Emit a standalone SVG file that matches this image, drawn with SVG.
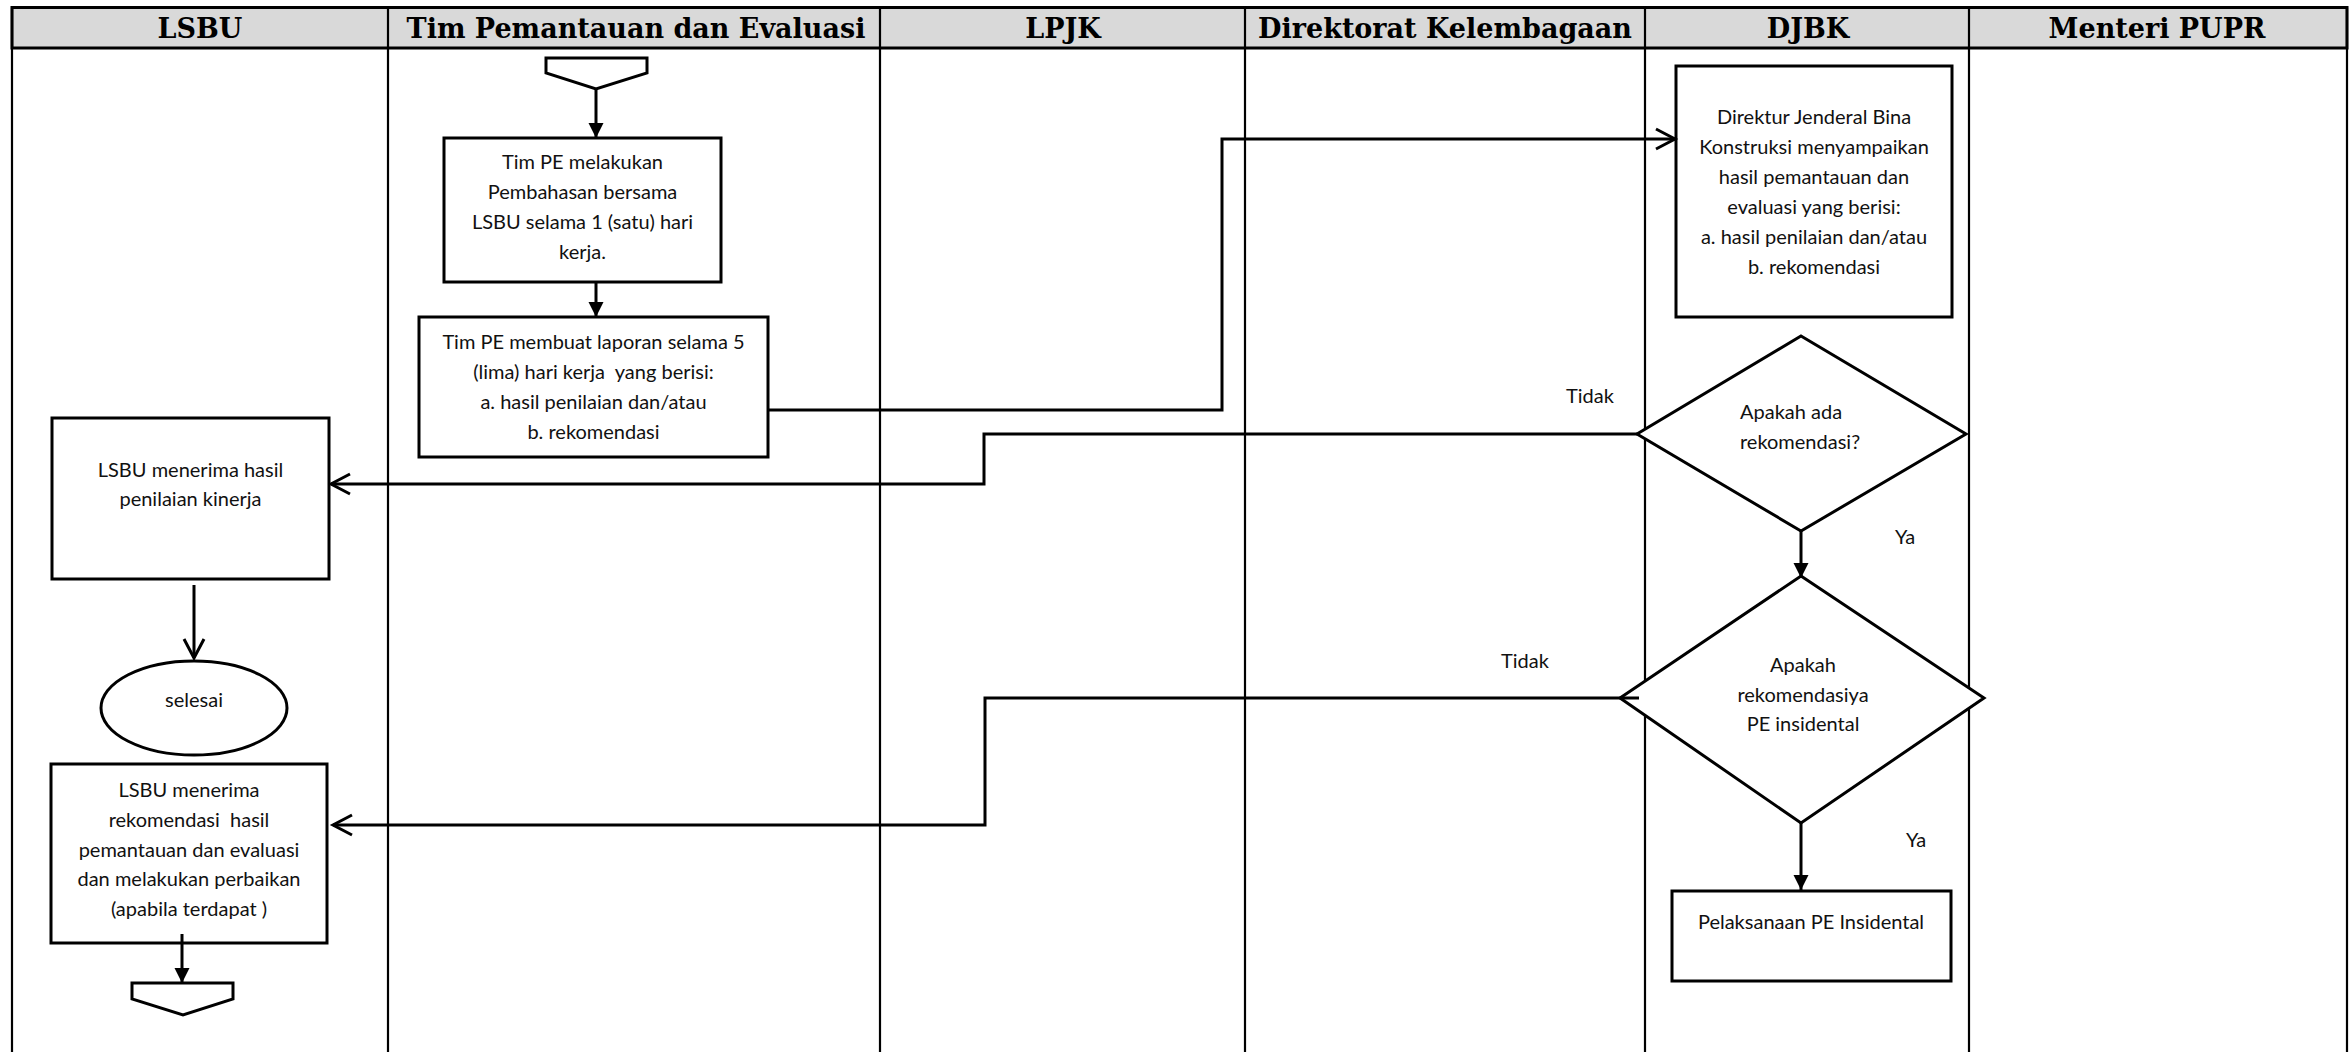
<svg xmlns="http://www.w3.org/2000/svg" width="2352" height="1052" viewBox="0 0 2352 1052">
<style>
  .lane { stroke: #000; stroke-width: 2.2; fill: none; }
  .hdr { fill: #d9d9d9; stroke: #000; stroke-width: 3; }
  .htxt { font-family: "DejaVu Serif", "Liberation Serif", serif; font-weight: bold; font-size: 27px; text-anchor: middle; fill: #000; }
  .box { fill: #fff; stroke: #000; stroke-width: 3; }
  .t { font-family: Lato, "Liberation Sans", sans-serif; font-size: 20px; fill: #111; text-anchor: middle; white-space: pre; }
  .tl { font-family: Lato, "Liberation Sans", sans-serif; font-size: 20px; fill: #111; white-space: pre; }
  .conn { fill: none; stroke: #000; stroke-width: 3; }
</style>
<defs>
  <marker id="fill" markerUnits="userSpaceOnUse" markerWidth="16" markerHeight="16" refX="15" refY="7.5" orient="auto">
    <path d="M0,0 L15,7.5 L0,15 z" fill="#000"/>
  </marker>
  <marker id="open" markerUnits="userSpaceOnUse" markerWidth="26" markerHeight="26" refX="21" refY="12" orient="auto">
    <path d="M2,2 L21,12 L2,22" fill="none" stroke="#000" stroke-width="3"/>
  </marker>
</defs>
<rect width="2352" height="1052" fill="#fff"/>
<g id="lanes">
  <rect class="hdr" x="12" y="7.5" width="2335" height="40.5"/>
  <line class="lane" x1="12" y1="7.5" x2="12" y2="1052"/>
  <line class="lane" x1="388" y1="7.5" x2="388" y2="1052"/>
  <line class="lane" x1="880" y1="7.5" x2="880" y2="1052"/>
  <line class="lane" x1="1245" y1="7.5" x2="1245" y2="1052"/>
  <line class="lane" x1="1645" y1="7.5" x2="1645" y2="1052"/>
  <line class="lane" x1="1969" y1="7.5" x2="1969" y2="1052"/>
  <line class="lane" x1="2347" y1="7.5" x2="2347" y2="1052"/>
  <text class="htxt" x="200" y="38">LSBU</text>
  <text class="htxt" x="636" y="38">Tim Pemantauan dan Evaluasi</text>
  <text class="htxt" x="1063" y="38">LPJK</text>
  <text class="htxt" x="1445" y="38">Direktorat Kelembagaan</text>
  <text class="htxt" x="1808" y="38">DJBK</text>
  <text class="htxt" x="2157" y="38">Menteri PUPR</text>
</g>
<g id="start-offpage">
  <polygon class="box" points="546,58 647,58 647,73 596,89 546,73"/>
</g>
<g id="tim-pe-pembahasan">
  <rect class="box" x="444" y="138" width="277" height="144"/>
  <text class="t" x="582.5" y="169">Tim PE melakukan</text>
  <text class="t" x="582.5" y="199">Pembahasan bersama</text>
  <text class="t" x="582.5" y="229">LSBU selama 1 (satu) hari</text>
  <text class="t" x="582.5" y="259">kerja.</text>
</g>
<g id="tim-pe-laporan">
  <rect class="box" x="419" y="317" width="349" height="140"/>
  <text class="t" x="593.5" y="349">Tim PE membuat laporan selama 5</text>
  <text class="t" x="593.5" y="379">(lima) hari kerja  yang berisi:</text>
  <text class="t" x="593.5" y="409">a. hasil penilaian dan/atau</text>
  <text class="t" x="593.5" y="439">b. rekomendasi</text>
</g>
<g id="djbk-menyampaikan">
  <rect class="box" x="1676" y="66" width="276" height="251"/>
  <text class="t" x="1814" y="124">Direktur Jenderal Bina</text>
  <text class="t" x="1814" y="154">Konstruksi menyampaikan</text>
  <text class="t" x="1814" y="184">hasil pemantauan dan</text>
  <text class="t" x="1814" y="214">evaluasi yang berisi:</text>
  <text class="t" x="1814" y="244">a. hasil penilaian dan/atau</text>
  <text class="t" x="1814" y="274">b. rekomendasi</text>
</g>
<g id="apakah-ada-rekomendasi">
  <polygon class="box" points="1801,336 1966,434 1801,531 1637,434"/>
  <text class="tl" x="1740" y="419">Apakah ada</text>
  <text class="tl" x="1740" y="449">rekomendasi?</text>
</g>
<g id="apakah-insidental">
  <polygon class="box" points="1801,576 1984,698 1801,823 1620,698"/>
  <text class="t" x="1803" y="672">Apakah</text>
  <text class="t" x="1803" y="702">rekomendasiya</text>
  <text class="t" x="1803" y="731">PE insidental</text>
</g>
<g id="pelaksanaan-pe-insidental">
  <rect class="box" x="1672" y="891" width="279" height="90"/>
  <text class="t" x="1811" y="929">Pelaksanaan PE Insidental</text>
</g>
<g id="lsbu-menerima-hasil">
  <rect class="box" x="52" y="418" width="277" height="161"/>
  <text class="t" x="190.5" y="477">LSBU menerima hasil</text>
  <text class="t" x="190.5" y="506">penilaian kinerja</text>
</g>
<g id="selesai">
  <ellipse class="box" cx="194" cy="708" rx="93" ry="47"/>
  <text class="t" x="194" y="707">selesai</text>
</g>
<g id="lsbu-menerima-rekomendasi">
  <rect class="box" x="51" y="764" width="276" height="179"/>
  <text class="t" x="189" y="797">LSBU menerima</text>
  <text class="t" x="189" y="827">rekomendasi  hasil</text>
  <text class="t" x="189" y="857">pemantauan dan evaluasi</text>
  <text class="t" x="189" y="886">dan melakukan perbaikan</text>
  <text class="t" x="189" y="916">(apabila terdapat )</text>
</g>
<g id="end-offpage">
  <polygon class="box" points="132,983 233,983 233,999 183,1015 132,999"/>
</g>
<g id="connectors">
  <line class="conn" x1="596" y1="89" x2="596" y2="138" marker-end="url(#fill)"/>
  <line class="conn" x1="596" y1="282" x2="596" y2="317" marker-end="url(#fill)"/>
  <polyline class="conn" points="768,410 1222,410 1222,139 1675,139" marker-end="url(#open)"/>
  <polyline class="conn" points="1637,434 984,434 984,484 331,484" marker-end="url(#open)"/>
  <line class="conn" x1="194" y1="585" x2="194" y2="658" marker-end="url(#open)"/>
  <line class="conn" x1="182" y1="934" x2="182" y2="983" marker-end="url(#fill)"/>
  <line class="conn" x1="1801" y1="531" x2="1801" y2="578" marker-end="url(#fill)"/>
  <polyline class="conn" points="1639,698 985,698 985,825 333,825" marker-end="url(#open)"/>
  <line class="conn" x1="1801" y1="823" x2="1801" y2="890" marker-end="url(#fill)"/>
  <text class="t" x="1590" y="403">Tidak</text>
  <text class="t" x="1905" y="544">Ya</text>
  <text class="t" x="1525" y="668">Tidak</text>
  <text class="t" x="1916" y="847">Ya</text>
</g>
</svg>
